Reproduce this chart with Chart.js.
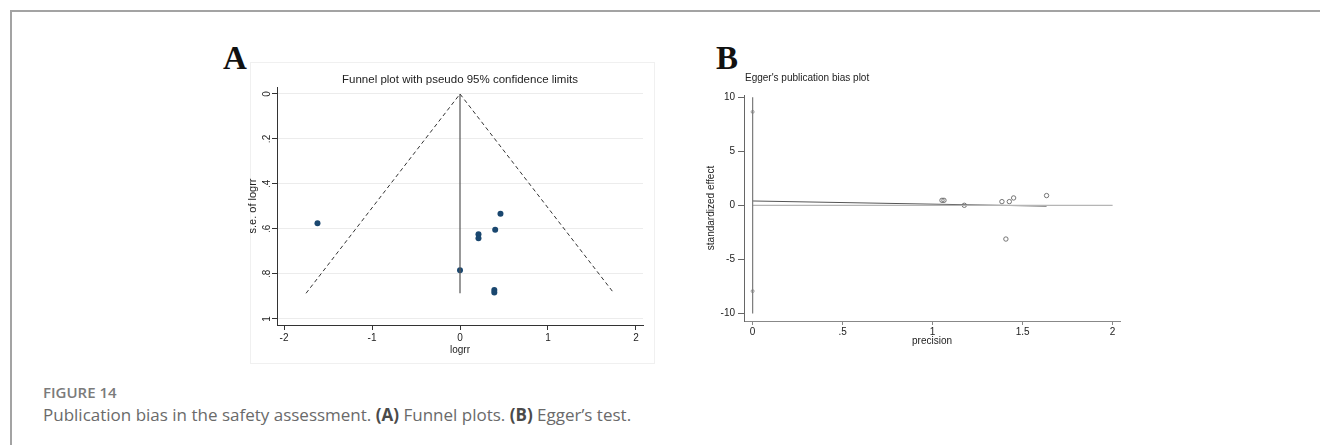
<!DOCTYPE html>
<html>
<head>
<meta charset="utf-8">
<script src="https://cdn.jsdelivr.net/npm/chart.js@4.4.1/dist/chart.umd.min.js"></script>
<style>
  html, body { margin: 0; padding: 0; background: #fff; }
  body { width: 1320px; height: 445px; position: relative; overflow: hidden; font-family: "Liberation Sans", Arial, sans-serif; }
  .frame { position: absolute; left: 10px; top: 10px; width: 1400px; height: 600px; border-left: 2px solid #a3a3a3; border-top: 2px solid #a3a3a3; }
  .region { position: absolute; border: 1px solid #f0f0f0; }
  .panel { position: absolute; }
  .letter { position: absolute; font-family: "Liberation Serif", "Times New Roman", serif; font-weight: bold; font-size: 33px; line-height: 33px; color: #111; }
  .fig { position: absolute; left: 43px; top: 382px; font-family: "Open Sans", "Noto Sans", sans-serif; font-weight: 600; font-size: 15px; color: #7b7b7b; }
  .cap { position: absolute; left: 43px; top: 403px; font-family: "Open Sans", "Noto Sans", sans-serif; font-size: 17px; color: #6a6a6a; white-space: nowrap; }
  .cap b { color: #4a4a4a; }
</style>
</head>
<body>
<div class="frame"></div>
<div class="region" style="left:250px;top:62px;width:403px;height:300px;"></div>
<div class="letter" style="left:223px;top:42px;">A</div>
<div class="letter" style="left:716px;top:42px;">B</div>
<div class="panel" style="left:240px;top:55px;width:420px;height:310px;"><canvas id="funnel"></canvas></div>
<div class="panel" style="left:690px;top:55px;width:450px;height:310px;"><canvas id="egger"></canvas></div>
<div class="fig">FIGURE 14</div>
<div class="cap">Publication bias in the safety assessment. <b>(A)</b> Funnel plots. <b>(B)</b> Egger’s test.</div>

<script>
// Funnel plot: study estimates (logrr) against their standard errors
const studyLogrr = [-1.62, 0, 0.21, 0.21, 0.39, 0.39, 0.40, 0.46];
const studySe    = [0.575, 0.784, 0.624, 0.641, 0.871, 0.883, 0.604, 0.532];
// pseudo 95% limits and the pooled-estimate line
const limitX = [-1.75, 0, 1.75];
const limitY = [0.886, 0, 0.886];
const pooledX = [0, 0];
const pooledY = [0, 0.886];
const funnelXTicks = [-2, -1, 0, 1, 2];
const funnelYTicks = [0, 0.2, 0.4, 0.6, 0.8, 1];

// Egger plot: standardized effect against precision
const precision = [1.052, 1.063, 1.176, 1.385, 1.426, 1.45, 1.633, 1.407];
const stdEffect = [0.46, 0.46, 0, 0.34, 0.34, 0.68, 0.90, -3.12];
const fitX = [0, 1.633];
const fitY = [0.40, -0.08];
const zeroX = [0, 2];
const zeroY = [0, 0];
const ciX = [0, 0];
const ciY = [-10, 10];
const ciEndY = [-7.94, 8.64];
const eggerXTicks = [0, 0.5, 1, 1.5, 2];
const eggerYTicks = [-10, -5, 0, 5, 10];

const pts = (xs, ys) => xs.map((x, i) => ({ x: x, y: ys[i] }));
const fmtStata = v => {
    if (v === 0) return '0';
    let s = String(Math.round(v * 100) / 100);
    return s.replace(/^0\./, '.').replace(/^-0\./, '-.');
};
const tickFont = { family: '"Liberation Sans", Arial, sans-serif', size: 10 };

// panel titles and the vertical y tick labels Stata draws on the funnel plot
const panelText = {
    id: 'panelText',
    afterDraw(chart, args, opts) {
        const ctx = chart.ctx, area = chart.chartArea;
        ctx.save();
        ctx.fillStyle = '#222';
        ctx.textBaseline = 'middle';
        if (opts.title) {
            ctx.font = opts.titleSize + 'px "Liberation Sans", Arial, sans-serif';
            if (opts.titleAlign === 'left') {
                ctx.textAlign = 'left';
                ctx.fillText(opts.title, area.left + 1, area.top - opts.titleGap);
            } else {
                ctx.textAlign = 'center';
                ctx.fillText(opts.title, (area.left + area.right) / 2, area.top - opts.titleGap);
            }
        }
        if (opts.rotatedY) {
            const ys = chart.scales.y;
            ctx.font = '10px "Liberation Sans", Arial, sans-serif';
            ctx.textAlign = 'center';
            for (const t of ys.ticks) {
                const py = ys.getPixelForValue(t.value);
                ctx.save();
                ctx.translate(area.left - 10, py);
                ctx.rotate(-Math.PI / 2);
                ctx.fillText(fmtStata(t.value), 0, 0);
                ctx.restore();
            }
        }
        ctx.restore();
    }
};

new Chart(document.getElementById('funnel'), {
    type: 'scatter',
    data: {
        datasets: [
            { data: pts(limitX, limitY), showLine: true, borderColor: '#333', borderWidth: 1, borderDash: [4, 3], pointRadius: 0 },
            { data: pts(pooledX, pooledY), showLine: true, borderColor: '#555', borderWidth: 1.2, pointRadius: 0 },
            { data: pts(studyLogrr, studySe), pointRadius: 3, pointBackgroundColor: '#1a476f', pointBorderColor: '#1a476f', pointBorderWidth: 0 }
        ]
    },
    options: {
        responsive: true, maintainAspectRatio: false, animation: false,
        layout: { padding: { left: 0, right: 17, top: 32, bottom: 9 } },
        plugins: {
            legend: { display: false }, tooltip: { enabled: false },
            panelText: { title: 'Funnel plot with pseudo 95% confidence limits', titleSize: 11.5, titleGap: 7, rotatedY: true }
        },
        scales: {
            x: {
                min: -2.08, max: 2.08,
                afterBuildTicks: s => { s.ticks = funnelXTicks.map(v => ({ value: v })); },
                afterFit: s => { s.height = 31; },
                border: { display: true, color: '#333', width: 1 },
                grid: { drawOnChartArea: false, drawTicks: true, tickLength: 5, tickColor: '#333' },
                ticks: { font: tickFont, color: '#222', padding: 2, maxRotation: 0, callback: v => fmtStata(v) },
                title: { display: true, text: 'logrr', font: { family: '"Liberation Sans", Arial, sans-serif', size: 10 }, color: '#222', padding: 0 }
            },
            y: {
                reverse: true, min: -0.031, max: 1.027,
                afterBuildTicks: s => { s.ticks = funnelYTicks.map(v => ({ value: v })); },
                afterFit: s => { s.width = 37; },
                border: { display: true, color: '#333', width: 1 },
                grid: { color: '#ececec', lineWidth: 1, drawTicks: true, tickLength: 5, tickColor: '#333' },
                ticks: { display: false },
                title: { display: true, text: 's.e. of logrr', font: { family: '"Liberation Sans", Arial, sans-serif', size: 11 }, color: '#222', padding: { top: 6, bottom: 0 } }
            }
        }
    },
    plugins: [panelText]
});

new Chart(document.getElementById('egger'), {
    type: 'scatter',
    data: {
        datasets: [
            { data: pts(ciX, ciY), showLine: true, borderColor: '#7a7a7a', borderWidth: 1.2, pointRadius: 0 },
            { data: pts([0, 0], ciEndY), pointRadius: 1.5, pointStyle: 'circle', pointBackgroundColor: '#fff', pointBorderColor: '#888', pointBorderWidth: 0.8 },
            { data: pts(zeroX, zeroY), showLine: true, borderColor: '#b5b5b5', borderWidth: 1.2, pointRadius: 0 },
            { data: pts(fitX, fitY), showLine: true, borderColor: '#555', borderWidth: 1, pointRadius: 0 },
            { data: pts(precision, stdEffect), pointRadius: 2.2, pointBackgroundColor: 'rgba(0,0,0,0)', pointBorderColor: '#666', pointBorderWidth: 0.9 }
        ]
    },
    options: {
        responsive: true, maintainAspectRatio: false, animation: false,
        layout: { padding: { left: 0, right: 20, top: 40, bottom: 18 } },
        plugins: {
            legend: { display: false }, tooltip: { enabled: false },
            panelText: { title: "Egger's publication bias plot", titleSize: 10, titleGap: 17, titleAlign: 'left' }
        },
        scales: {
            x: {
                min: -0.048, max: 2.041,
                afterBuildTicks: s => { s.ticks = eggerXTicks.map(v => ({ value: v })); },
                afterFit: s => { s.height = 26; },
                border: { display: true, color: '#888', width: 1 },
                grid: { drawOnChartArea: false, drawTicks: true, tickLength: 4, tickColor: '#888' },
                ticks: { font: tickFont, color: '#222', padding: 1, maxRotation: 0, callback: v => fmtStata(v) },
                title: { display: true, text: 'precision', font: { family: '"Liberation Sans", Arial, sans-serif', size: 10 }, color: '#222', padding: 0 }
            },
            y: {
                min: -10.7, max: 10.2,
                afterBuildTicks: s => { s.ticks = eggerYTicks.map(v => ({ value: v })); },
                afterFit: s => { s.width = 54; },
                border: { display: true, color: '#666', width: 1 },
                grid: { drawOnChartArea: false, drawTicks: true, tickLength: 6, tickColor: '#666' },
                ticks: { font: tickFont, color: '#222', padding: 3, callback: v => String(v) },
                title: { display: true, text: 'standardized effect', font: { family: '"Liberation Sans", Arial, sans-serif', size: 10 }, color: '#222', padding: { top: 15, bottom: 0 } }
            }
        }
    },
    plugins: [panelText]
});
</script>
</body>
</html>
